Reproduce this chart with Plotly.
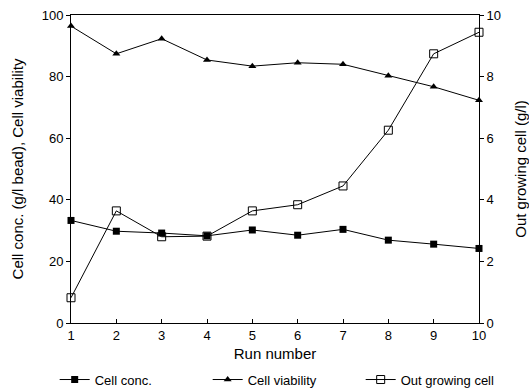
import plotly.graph_objects as go

# Run-by-run measurements
runs = [1, 2, 3, 4, 5, 6, 7, 8, 9, 10]
cell_conc = [33.3, 29.8, 29.2, 28.3, 30.2, 28.5, 30.4, 26.9, 25.6, 24.2]
cell_viability = [96.4, 87.4, 92.3, 85.4, 83.4, 84.5, 84.0, 80.3, 76.7, 72.3]
out_growing = [0.82, 3.64, 2.80, 2.82, 3.64, 3.84, 4.45, 6.26, 8.74, 9.44]

left_ticks = [0, 20, 40, 60, 80, 100]
right_ticks = [0, 2, 4, 6, 8, 10]

FONT = "Liberation Sans, Arial, sans-serif"

fig = go.Figure()
fig.add_trace(go.Scatter(
    x=runs, y=cell_conc, name="Cell conc.", mode="lines+markers",
    line=dict(color="black", width=1),
    marker=dict(symbol="square", size=7, color="black"),
    cliponaxis=False,
))
fig.add_trace(go.Scatter(
    x=runs, y=cell_viability, name="Cell viability", mode="lines+markers",
    line=dict(color="black", width=1),
    marker=dict(symbol="triangle-up", size=7, color="black"),
    cliponaxis=False,
))
fig.add_trace(go.Scatter(
    x=runs, y=out_growing, name="Out growing cell", mode="lines+markers",
    yaxis="y2",
    line=dict(color="black", width=1),
    marker=dict(symbol="square-open", size=8, color="black", line=dict(width=1)),
    cliponaxis=False,
))

fig.update_layout(
    width=529, height=391,
    margin=dict(l=71, r=50, t=15, b=68, autoexpand=False),
    paper_bgcolor="white", plot_bgcolor="white",
    font=dict(family=FONT, size=13, color="black"),
    xaxis=dict(
        range=[1, 10], tickvals=runs, ticktext=[str(r) for r in runs],
        ticks="inside", ticklen=4, tickcolor="black",
        showline=True, linecolor="black", linewidth=1, mirror=True,
        showgrid=False, zeroline=False,
        title=dict(text="Run number", font=dict(size=15), standoff=6),
    ),
    yaxis=dict(
        range=[0, 100], tickvals=left_ticks,
        ticks="outside", ticklen=4, tickcolor="black",
        showline=True, linecolor="black", linewidth=1,
        showgrid=False, zeroline=False,
        title=dict(text="Cell conc. (g/l bead), Cell viability",
                   font=dict(size=15), standoff=14),
    ),
    yaxis2=dict(
        range=[0, 10], tickvals=right_ticks, overlaying="y", side="right",
        ticks="outside", ticklen=4, tickcolor="black",
        showline=True, linecolor="black", linewidth=1,
        showgrid=False, zeroline=False,
        title=dict(text="Out growing cell (g/l)", font=dict(size=15), standoff=16),
    ),
    legend=dict(
        orientation="h", x=-0.04, xanchor="left", y=-0.135, yanchor="top",
        font=dict(size=13), entrywidth=108, bgcolor="rgba(0,0,0,0)",
    ),
    showlegend=True,
)

fig.write_html("out.html")
